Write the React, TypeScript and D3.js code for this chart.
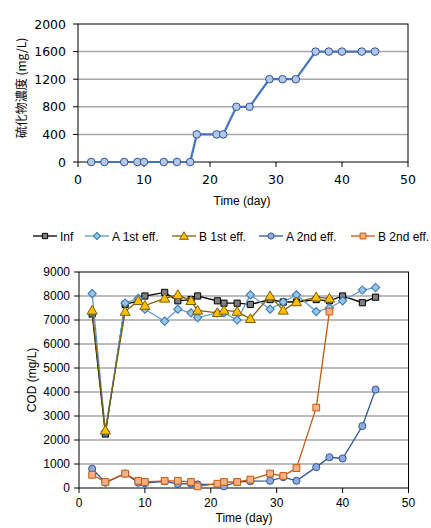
import React from 'react';
import * as d3 from 'd3';

// top chart: sulfide concentration
const sDays = [2, 4, 7, 9, 10, 13, 15, 17, 18, 21, 22, 24, 26, 29, 31, 33, 36, 38, 40, 43, 45];
const sValues = [0, 0, 0, 0, 0, 0, 0, 0, 400, 400, 400, 800, 800, 1200, 1200, 1200, 1600, 1600, 1600, 1600, 1600];

// bottom chart: COD
const days = [2, 4, 7, 9, 10, 13, 15, 17, 18, 21, 22, 24, 26, 29, 31, 33, 36, 38, 40, 43, 45];
const infValues = [7250, 2250, 7650, 7800, 8000, 8150, 7800, 7850, 8000, 7800, 7700, 7700, 7650, 7850, 7750, 7750, 7850, 7800, 8000, 7720, 7950];
const a1Values = [8100, 2350, 7700, 7900, 7450, 6950, 7450, 7300, 7100, 7300, 7300, 7000, 8050, 7450, 7750, 8050, 7350, 7500, 7800, 8250, 8350];
const b1Days = [2, 4, 7, 9, 10, 13, 15, 17, 18, 21, 22, 24, 26, 29, 31, 33, 36, 38];
const b1Values = [7400, 2400, 7350, 7800, 7600, 7900, 8050, 7800, 7400, 7300, 7400, 7350, 7050, 8000, 7400, 7750, 7950, 7900];
const a2Values = [800, 220, 600, 220, 200, 280, 170, 180, 150, 150, 70, 250, 280, 300, 450, 300, 870, 1280, 1230, 2580, 4100];
const b2Days = [2, 4, 7, 9, 10, 13, 15, 17, 18, 21, 22, 24, 26, 29, 31, 33, 36, 38];
const b2Values = [550, 250, 600, 300, 250, 300, 300, 250, 70, 180, 250, 250, 350, 600, 500, 830, 3350, 7350];

const sTicks = [0, 400, 800, 1200, 1600, 2000];
const codTicks = [0, 1000, 2000, 3000, 4000, 5000, 6000, 7000, 8000, 9000];
const xTicks = [0, 10, 20, 30, 40, 50];

const jpFont = '"Noto Sans CJK JP", sans-serif';
const topFont = '"DejaVu Sans", sans-serif';
const font = '"Liberation Sans", Arial, sans-serif';

type Series = {
  name: string;
  xs: number[];
  ys: number[];
  line: string;
  fill: string;
  stroke: string;
  symbol: d3.SymbolType;
  size: number;
  rotate: number;
  dy: number;
};

const series: Series[] = [
  { name: 'Inf', xs: days, ys: infValues, line: '#000000', fill: '#7f7f7f', stroke: '#000000', symbol: d3.symbolSquare, size: 38, rotate: 0, dy: 0 },
  { name: 'A 1st eff.', xs: days, ys: a1Values, line: '#5b9bd5', fill: '#9dc3e6', stroke: '#2e75b6', symbol: d3.symbolSquare, size: 34, rotate: 45, dy: 0 },
  { name: 'B 1st eff.', xs: b1Days, ys: b1Values, line: '#7f6000', fill: '#ffc000', stroke: '#7f6000', symbol: d3.symbolTriangle, size: 44, rotate: 0, dy: 0.8 },
  { name: 'A 2nd eff.', xs: days, ys: a2Values, line: '#2f5597', fill: '#8faadc', stroke: '#2f5597', symbol: d3.symbolCircle, size: 40, rotate: 0, dy: 0 },
  { name: 'B 2nd eff.', xs: b2Days, ys: b2Values, line: '#c55a11', fill: '#f4b183', stroke: '#c55a11', symbol: d3.symbolSquare, size: 46, rotate: 0, dy: 0 },
];

const legendX = [33, 85, 172, 259, 351];

export default function App() {
  const x1 = d3.scaleLinear().domain([0, 50]).range([78, 408]);
  const y1 = d3.scaleLinear().domain([0, 2000]).range([162, 24]);
  const x2 = d3.scaleLinear().domain([0, 50]).range([79, 408.5]);
  const y2 = d3.scaleLinear().domain([0, 9000]).range([488, 272]);

  const sLine = d3.line<number>().x((_, i) => x1(sDays[i])).y(d => y1(d));

  return (
    <svg width={431} height={528} style={{ position: 'absolute', left: 0, top: 0, background: '#fff' }}>
      {/* ---------- top chart ---------- */}
      <g>
        {sTicks.slice(1, -1).map(t => (
          <line key={t} x1={x1(0)} x2={x1(50)} y1={y1(t)} y2={y1(t)} stroke="#a6a6a6" strokeWidth={1.5} />
        ))}
        <rect x={x1(0)} y={y1(2000)} width={x1(50) - x1(0)} height={y1(0) - y1(2000)} fill="none" stroke="#000" strokeWidth={1} />
        {sTicks.map(t => (
          <g key={t}>
            <line x1={x1(0) - 5} x2={x1(0)} y1={y1(t)} y2={y1(t)} stroke="#000" />
            <text x={66} y={y1(t) + 4.5} textAnchor="end" fontFamily={topFont} fontSize={12.5} fill="#000">{t}</text>
          </g>
        ))}
        {xTicks.map(t => (
          <g key={t}>
            <line x1={x1(t)} x2={x1(t)} y1={y1(0)} y2={y1(0) + 5} stroke="#000" />
            <text x={x1(t)} y={184} textAnchor="middle" fontFamily={topFont} fontSize={12.5} fill="#000">{t}</text>
          </g>
        ))}
        <path d={sLine(sValues) || ''} fill="none" stroke="#4472c4" strokeWidth={2.2} />
        {sValues.map((v, i) => (
          <circle key={i} cx={x1(sDays[i])} cy={y1(v)} r={3.8} fill="#b4c7e7" stroke="#2f528f" strokeWidth={1} />
        ))}
        <text x={242} y={205} textAnchor="middle" fontFamily={font} fontSize={12} fill="#000">Time (day)</text>
        <text transform={`translate(26,88) rotate(-90)`} textAnchor="middle" fontFamily={jpFont} fontSize={12} fill="#000">硫化物濃度 (mg/L)</text>
      </g>

      {/* ---------- legend ---------- */}
      <g>
        {series.map((s, i) => {
          const lx = legendX[i];
          return (
            <g key={s.name}>
              <line x1={lx} x2={lx + 24} y1={236} y2={236} stroke={s.line} strokeWidth={1.3} />
              <path d={d3.symbol(s.symbol, s.size * 0.75)() || ''} transform={`translate(${lx + 12},${236 + s.dy}) rotate(${s.rotate})`} fill={s.fill} stroke={s.stroke} strokeWidth={1} />
              <text x={lx + 27} y={240.5} fontFamily={font} fontSize={12} fill="#000">{s.name}</text>
            </g>
          );
        })}
      </g>

      {/* ---------- bottom chart ---------- */}
      <g>
        {codTicks.slice(1, -1).map(t => (
          <line key={t} x1={x2(0)} x2={x2(50)} y1={y2(t)} y2={y2(t)} stroke="#a6a6a6" strokeWidth={1.5} />
        ))}
        <rect x={x2(0)} y={y2(9000)} width={x2(50) - x2(0)} height={y2(0) - y2(9000)} fill="none" stroke="#000" strokeWidth={1} />
        {codTicks.map(t => (
          <g key={t}>
            <line x1={x2(0) - 5} x2={x2(0)} y1={y2(t)} y2={y2(t)} stroke="#000" />
            <text x={70} y={y2(t) + 4} textAnchor="end" fontFamily={font} fontSize={12} fill="#000">{t}</text>
          </g>
        ))}
        {xTicks.map(t => (
          <g key={t}>
            <line x1={x2(t)} x2={x2(t)} y1={y2(0)} y2={y2(0) + 5} stroke="#000" />
            <text x={x2(t)} y={507} textAnchor="middle" fontFamily={font} fontSize={12} fill="#000">{t}</text>
          </g>
        ))}
        {series.map(s => {
          const line = d3.line<number>().x((_, i) => x2(s.xs[i])).y(d => y2(d));
          const sym = d3.symbol(s.symbol, s.size)() || '';
          return (
            <g key={s.name}>
              <path d={line(s.ys) || ''} fill="none" stroke={s.line} strokeWidth={1.3} />
              {s.ys.map((v, i) => (
                <path key={i} d={sym} transform={`translate(${x2(s.xs[i])},${y2(v) + s.dy}) rotate(${s.rotate})`} fill={s.fill} stroke={s.stroke} strokeWidth={1} />
              ))}
            </g>
          );
        })}
        <text x={244} y={522} textAnchor="middle" fontFamily={font} fontSize={12} fill="#000">Time (day)</text>
        <text transform={`translate(36,380) rotate(-90)`} textAnchor="middle" fontFamily={font} fontSize={12} fill="#000">COD (mg/L)</text>
      </g>
    </svg>
  );
}
